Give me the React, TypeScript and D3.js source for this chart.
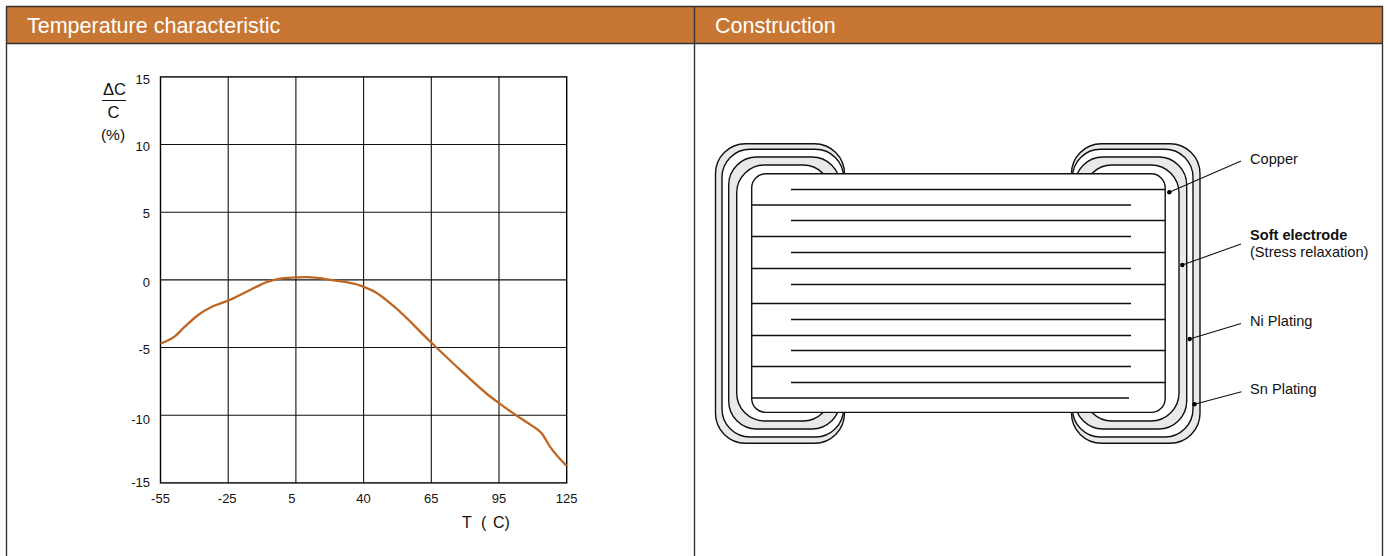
import React from "react";
import * as d3 from "d3";

const xTicks = [-55, -25, 5, 40, 65, 95, 125];
const yTicks = [15, 10, 5, 0, -5, -10, -15];
const yLabelNudge = [3, 1.5, 1, 3, 1.5, 4, 0];
const xLabelNudge = [0, -1, -4, 0, 0, 0, 0];
const temps = [-55, -48.4, -44.8, -38.3, -32, -25, -15.3, -7.4, -0.3, 11.2, 23, 38.5, 44.4, 51, 65.3, 77.8, 89.7, 95, 102.8, 109.5, 113.9, 117.6, 125];
const dCap = [-4.7, -4.14, -3.55, -2.59, -1.97, -1.53, -0.74, -0.13, 0.13, 0.2, 0, -0.42, -0.91, -1.92, -4.68, -6.65, -8.43, -9.11, -10.03, -10.77, -11.33, -12.32, -13.75];

const panelTitles = ["Temperature characteristic", "Construction"];

// Schematic construction: [left, top, right, bottom, radius, fill]
const leftLayers: [number, number, number, number, number, string][] = [
  [715.5, 143.7, 844.5, 443.3, 30, "#e8e9e8"],
  [722, 149.3, 843.5, 437, 28, "#ffffff"],
  [728.7, 157, 840, 429, 28, "#e8e9e8"],
  [736.7, 165, 831, 421, 28, "#ffffff"],
];
const rightLayers: [number, number, number, number, number, string][] = [
  [1071.5, 143.7, 1200, 443.3, 30, "#e8e9e8"],
  [1072.5, 149.3, 1193, 437, 28, "#ffffff"],
  [1075, 157, 1186.7, 429, 28, "#e8e9e8"],
  [1084, 165, 1179, 421, 28, "#ffffff"],
];
const electrodeY = [189.5, 205, 220.5, 236.5, 252.5, 268.5, 284.5, 303.5, 319.5, 335.5, 350.5, 366.5, 382.5, 398];
const electrodeEnds: [number, number][] = [
  [791, 1165], [752, 1131], [791, 1165], [752, 1131], [791, 1165], [752, 1131], [791, 1165],
  [752, 1131], [791, 1165], [752, 1131], [791, 1165], [752, 1131], [791, 1165], [752, 1129],
];
const leaders: [number, number, number, number][] = [
  [1169.3, 192.3, 1241, 161],
  [1182.3, 265, 1241, 244],
  [1189.7, 339, 1241, 323.5],
  [1194.5, 404.3, 1241.5, 391.7],
];

const x = d3.scaleLinear<number>().domain(xTicks).range(xTicks.map((_, i) => 160.5 + i * 67.7));
const y = d3.scaleLinear().domain([-15, 15]).range([482.9, 76.9]);
const curve = d3.line<number>()
  .x((_, i) => x(temps[i]))
  .y((d) => y(d))
  .curve(d3.curveMonotoneX);

const FONT = "'Liberation Sans', Arial, sans-serif";
const BORDER = "#333333";
const HEADER = "#c87633";

function Layer({ r }: { r: [number, number, number, number, number, string] }) {
  return (
    <rect x={r[0]} y={r[1]} width={r[2] - r[0]} height={r[3] - r[1]} rx={r[4]} ry={r[4]} fill={r[5]} stroke="#111" strokeWidth={1.4} />
  );
}

export default function App() {
  return (
    <svg width={1388} height={556} viewBox="0 0 1388 556" style={{ position: "absolute", left: 0, top: 0, background: "#fff" }} fontFamily={FONT}>
      {/* panel frame */}
      <rect x={6} y={6} width={1376} height={38} fill={HEADER} />
      <path d={`M6.5 560V6.5H1382.5V560M694.5 6V560M6 43.5H1382`} fill="none" stroke={BORDER} strokeWidth={1.4} />
      <text x={27} y={33} fontSize={21.5} fill="#fff">{panelTitles[0]}</text>
      <text x={715} y={33} fontSize={21.5} fill="#fff">{panelTitles[1]}</text>

      {/* grid */}
      {xTicks.slice(1, -1).map((t) => (
        <line key={t} x1={x(t)} x2={x(t)} y1={y(15)} y2={y(-15)} stroke="#111" strokeWidth={1.1} />
      ))}
      {yTicks.slice(1, -1).map((t) => (
        <line key={t} x1={x(-55)} x2={x(125)} y1={y(t)} y2={y(t)} stroke="#111" strokeWidth={1.1} />
      ))}
      <rect x={x(-55)} y={y(15)} width={x(125) - x(-55)} height={y(-15) - y(15)} fill="none" stroke="#000" strokeWidth={1.4} />

      {/* tick labels */}
      {yTicks.map((t, i) => (
        <text key={t} x={150} y={y(t) + 4.5 + yLabelNudge[i]} fontSize={13} textAnchor="end" fill="#111">{t}</text>
      ))}
      {xTicks.map((t, i) => (
        <text key={t} x={x(t) + xLabelNudge[i]} y={503} fontSize={13} textAnchor="middle" fill="#111">{t}</text>
      ))}

      {/* axis titles */}
      <text x={114.5} y={95} fontSize={16.5} textAnchor="middle" fill="#111">ΔC</text>
      <line x1={102} x2={126} y1={100.5} y2={100.5} stroke="#111" strokeWidth={1} />
      <text x={113.5} y={117.5} fontSize={16.5} textAnchor="middle" fill="#111">C</text>
      <text x={113} y={140} fontSize={15.5} textAnchor="middle" fill="#111">(%)</text>
      <text x={462} y={528} fontSize={16} fill="#111">T</text>
      <text x={481} y={528} fontSize={16} fill="#111">(</text>
      <text x={493} y={528} fontSize={16} fill="#111">C)</text>

      {/* curve */}
      <path d={curve(dCap) || ""} fill="none" stroke="#bf6622" strokeWidth={2.3} />

      {/* construction */}
      {leftLayers.map((r, i) => <Layer key={"l" + i} r={r} />)}
      {rightLayers.map((r, i) => <Layer key={"r" + i} r={r} />)}
      <rect x={751.7} y={173.8} width={413.5} height={238.6} rx={14} ry={14} fill="#fff" stroke="#111" strokeWidth={1.4} />
      {electrodeY.map((ey, i) => (
        <line key={i} x1={electrodeEnds[i][0]} x2={electrodeEnds[i][1]} y1={ey} y2={ey} stroke="#111" strokeWidth={1.3} />
      ))}
      {leaders.map((l, i) => (
        <g key={i}>
          <line x1={l[0]} y1={l[1]} x2={l[2]} y2={l[3]} stroke="#111" strokeWidth={1.1} />
          <circle cx={l[0]} cy={l[1]} r={2.2} fill="#000" />
        </g>
      ))}
      <text x={1250} y={164} fontSize={14.6} fill="#111">Copper</text>
      <text x={1250} y={240} fontSize={14.6} fontWeight="bold" fill="#111">Soft electrode</text>
      <text x={1250} y={257} fontSize={14.6} fill="#111">(Stress relaxation)</text>
      <text x={1250} y={326} fontSize={14.6} fill="#111">Ni Plating</text>
      <text x={1250} y={394} fontSize={14.6} fill="#111">Sn Plating</text>
    </svg>
  );
}
